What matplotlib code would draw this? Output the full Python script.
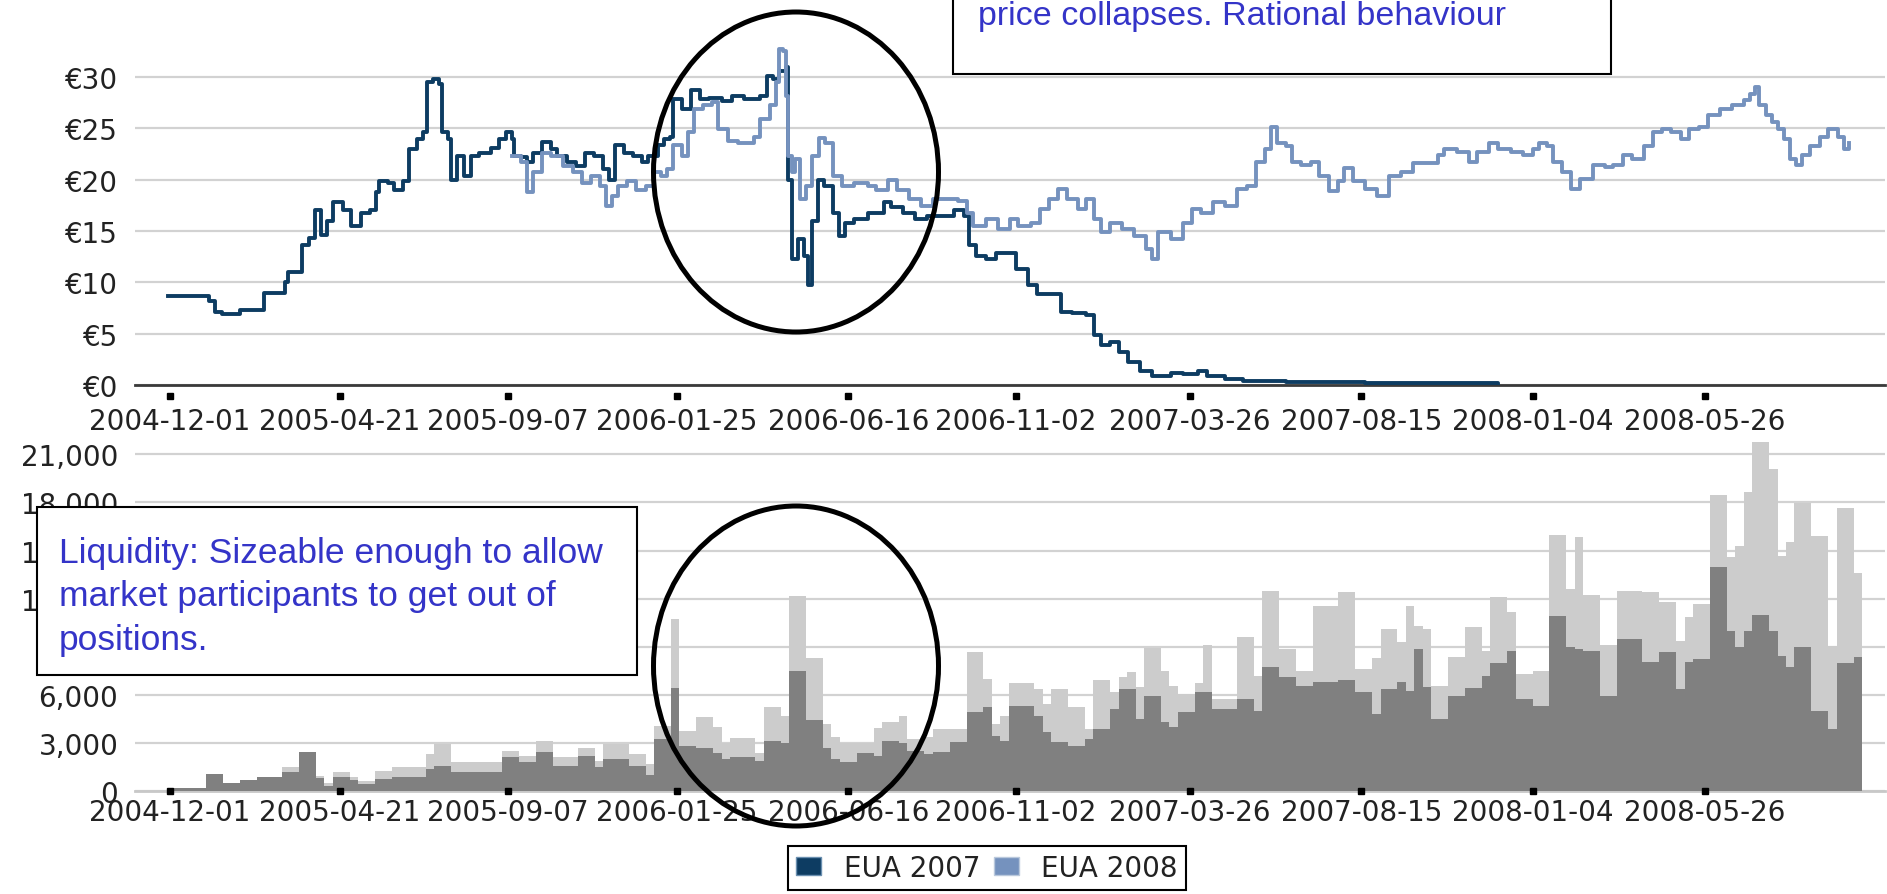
import numpy as np
import matplotlib
matplotlib.use('Agg')
import matplotlib.pyplot as plt
import matplotlib.dates as mdates
from matplotlib.patches import Ellipse, Rectangle, Patch
from matplotlib.transforms import ScaledTranslation

# EUA 2007 price, day offset from 2004-12-01 and price in EUR
eua07_days = [-2, 25, 32, 37, 43, 57, 58, 75, 78, 95, 98, 105, 109, 115, 120, 125, 130, 135, 143, 150,
              158, 166, 171, 173, 181, 186, 193, 198, 205, 210, 213, 218, 223, 225, 230, 233, 238, 244, 249, 256,
              266, 273, 278, 283, 285, 291, 296, 301, 308, 316, 321, 329, 336, 344, 351, 359, 364, 369, 376, 384,
              391, 396, 404, 409, 414, 417, 424, 432, 439, 447, 457, 466, 476, 489, 495, 500, 505, 510, 512, 515,
              520, 525, 529, 532, 537, 542, 549, 554, 559, 567, 578, 585, 592, 597, 607, 617, 627, 640, 650, 658,
              662, 668, 676, 684, 694, 701, 711, 718, 731, 738, 747, 759, 766, 771, 779, 786, 794, 804, 814, 829,
              839, 852, 859, 874, 889, 925, 990, 1100]
eua07_price = [8.7, 8.7, 8.2, 7.1, 6.9, 6.9, 7.3, 7.3, 9.0, 10.0, 11.0, 11.0, 13.6, 14.3, 17.0, 14.6, 16.0, 17.8, 17.0, 15.5,
               16.8, 17.0, 18.8, 19.9, 19.7, 19.0, 19.9, 23.0, 24.0, 24.6, 29.5, 29.8, 29.3, 24.6, 24.0, 20.0, 22.3, 20.4, 22.3, 22.6,
               23.1, 24.0, 24.6, 24.0, 22.3, 22.2, 21.7, 22.6, 23.7, 23.0, 22.3, 21.7, 21.3, 22.6, 22.3, 21.0, 20.0, 23.4, 22.6, 22.3,
               21.7, 22.3, 23.4, 24.0, 24.2, 27.9, 26.9, 28.7, 27.9, 28.0, 27.7, 28.2, 27.9, 28.2, 30.1, 29.8, 30.6, 31.0, 20.0, 12.3,
               14.2, 12.6, 9.7, 16.0, 20.0, 19.4, 16.8, 14.5, 15.8, 16.2, 16.8, 16.8, 17.8, 17.3, 16.8, 16.2, 16.5, 16.5, 17.0, 16.5,
               13.6, 12.6, 12.3, 12.9, 12.9, 11.3, 9.7, 8.9, 8.9, 7.1, 7.0, 6.8, 4.9, 3.9, 4.2, 3.2, 2.2, 1.4, 0.9, 1.2,
               1.1, 1.4, 0.9, 0.6, 0.35, 0.25, 0.15, 0.05]

# EUA 2008 price
eua08_days = [283, 291, 296, 301, 308, 316, 326, 334, 341, 349, 356, 361, 366, 371, 379, 386, 394, 401, 407, 412,
              417, 424, 429, 434, 442, 449, 454, 462, 471, 484, 489, 497, 502, 505, 508, 510, 512, 515, 518, 522,
              527, 532, 538, 543, 549, 557, 567, 578, 585, 595, 602, 612, 622, 632, 642, 653, 660, 665, 676, 686,
              696, 703, 713, 721, 728, 736, 743, 752, 759, 766, 771, 779, 789, 799, 809, 814, 819, 829, 839, 847,
              854, 864, 874, 884, 892, 900, 907, 912, 917, 925, 930, 937, 945, 952, 960, 968, 973, 980, 990, 1000,
              1010, 1020, 1030, 1041, 1051, 1056, 1066, 1076, 1083, 1093, 1100, 1111, 1121, 1129, 1134, 1141, 1146, 1153, 1161, 1168,
              1179, 1189, 1196, 1204, 1211, 1221, 1229, 1236, 1244, 1252, 1259, 1267, 1274, 1284, 1294, 1304, 1309, 1313, 1317, 1322,
              1327, 1332, 1337, 1342, 1347, 1352, 1359, 1367, 1374, 1382, 1387, 1391]
eua08_price = [22.3, 21.7, 18.8, 20.7, 22.6, 22.3, 21.3, 20.7, 19.7, 20.4, 19.4, 17.4, 18.4, 19.4, 19.9, 19.0, 19.4, 20.7, 20.4, 21.0,
               23.4, 22.3, 24.6, 26.9, 27.3, 27.6, 24.9, 23.8, 23.6, 24.2, 25.9, 27.3, 29.5, 32.7, 32.5, 28.2, 22.3, 20.7, 22.0, 18.1,
               19.4, 22.3, 24.1, 23.6, 20.4, 19.4, 19.7, 19.4, 19.0, 20.0, 19.0, 18.1, 17.4, 18.1, 18.1, 17.9, 16.8, 15.5, 16.2, 15.2,
               16.2, 15.5, 15.8, 17.1, 18.1, 19.1, 18.1, 17.1, 18.1, 16.2, 14.9, 15.8, 15.2, 14.5, 13.2, 12.3, 14.9, 14.2, 15.8, 17.1,
               16.8, 17.8, 17.4, 19.1, 19.4, 21.7, 23.0, 25.1, 23.6, 23.3, 21.7, 21.4, 21.7, 20.4, 18.9, 19.9, 21.1, 19.9, 19.1, 18.4,
               20.4, 20.7, 21.6, 21.6, 22.4, 23.0, 22.7, 21.7, 22.7, 23.6, 23.0, 22.7, 22.4, 23.0, 23.6, 23.3, 21.7, 20.7, 19.1, 20.1,
               21.4, 21.2, 21.4, 22.4, 22.0, 23.3, 24.6, 24.9, 24.6, 24.0, 24.9, 25.1, 26.3, 26.9, 27.3, 27.8, 28.3, 29.0, 27.3, 26.3,
               25.6, 24.9, 24.0, 22.0, 21.4, 22.4, 23.3, 24.2, 24.9, 24.2, 23.0, 23.6]

# weekly traded volume, first week starting 2004-12-03
vol_start = '2004-12-03'
vol_total = [200, 200, 200, 200, 1060, 1060, 500, 500, 690, 690,
             900, 900, 900, 1500, 1500, 2430, 2430, 940, 500, 1180,
             1180, 900, 600, 600, 1250, 1250, 1500, 1500, 1500, 1500,
             2300, 2930, 2930, 1800, 1800, 1800, 1800, 1800, 1800, 2500,
             2500, 2180, 2180, 3120, 3120, 2120, 2120, 2120, 2680, 2680,
             1900, 2930, 2930, 2930, 2300, 2300, 1700, 4050, 4050, 10700,
             3740, 3740, 4600, 4600, 4000, 3000, 3300, 3300, 3300, 2400,
             5240, 5240, 4700, 12170, 12170, 8300, 8300, 4200, 3400, 3000,
             3000, 3000, 3000, 3900, 4300, 4300, 4700, 3250, 3250, 3400,
             3870, 3870, 3870, 3870, 8670, 8670, 7000, 4200, 4700, 6740,
             6740, 6740, 6370, 5430, 6370, 6370, 5240, 5240, 3870, 6930,
             6930, 6180, 7100, 7430, 6500, 8900, 8900, 7500, 6550, 6050,
             6050, 6740, 9100, 5740, 5740, 5740, 9600, 9600, 7180, 12480,
             12480, 8860, 8860, 7500, 7500, 11540, 11540, 11540, 12400, 12400,
             7600, 7600, 8300, 10100, 10100, 9300, 11540, 10300, 10100, 6550,
             6550, 8360, 8360, 10230, 10230, 8740, 12100, 12100, 11170, 7300,
             7300, 7490, 7490, 15970, 15970, 12600, 15850, 12230, 12230, 9100,
             9100, 12480, 12480, 12480, 12400, 12400, 11800, 11800, 9360, 10860,
             11670, 11670, 18470, 18470, 14600, 15300, 18650, 21780, 21780, 20100,
             14670, 15540, 17970, 17970, 15910, 15910, 9050, 17660, 17660, 13600]
vol_base = [200, 200, 200, 200, 1060, 1060, 500, 500, 690, 690,
            850, 850, 850, 1200, 1200, 2430, 2430, 800, 300, 870,
            870, 700, 440, 440, 750, 750, 900, 900, 900, 900,
            1370, 1560, 1560, 1200, 1200, 1200, 1200, 1200, 1200, 2120,
            2120, 1800, 1800, 2430, 2430, 1560, 1560, 1560, 2180, 2180,
            1500, 2000, 2000, 2000, 1560, 1560, 1000, 3240, 3240, 6400,
            2800, 2800, 2700, 2700, 2400, 2000, 2100, 2100, 2100, 1900,
            3100, 3100, 3000, 7500, 7500, 4400, 4400, 2700, 2000, 1800,
            1800, 2400, 2400, 2200, 3100, 3100, 3000, 2500, 2500, 2300,
            2430, 2430, 3060, 3060, 4900, 4900, 5240, 3430, 3100, 5300,
            5300, 5300, 4700, 3680, 3060, 3060, 2800, 2800, 3240, 3870,
            3870, 5100, 6370, 6370, 4500, 5930, 5930, 4300, 4000, 4900,
            4900, 6180, 6180, 5100, 5100, 5100, 5740, 5740, 5000, 7740,
            7740, 7100, 7100, 6550, 6550, 6800, 6800, 6800, 6900, 6900,
            6200, 6200, 4800, 6370, 6370, 6800, 6240, 8860, 6500, 4500,
            4500, 5930, 5930, 6400, 6400, 7180, 8000, 8000, 8740, 5740,
            5740, 5300, 5300, 10900, 10900, 9000, 8860, 8740, 8740, 5930,
            5930, 9480, 9480, 9480, 8050, 8050, 8670, 8670, 6370, 8050,
            8240, 8240, 14000, 14000, 10000, 9000, 10000, 11000, 11000, 10000,
            8420, 7740, 9000, 9000, 5000, 5000, 3870, 8000, 8000, 8360]

tick_dates = ['2004-12-01', '2005-04-21', '2005-09-07', '2006-01-25', '2006-06-16',
              '2006-11-02', '2007-03-26', '2007-08-15', '2008-01-04', '2008-05-26']
price_ticks = [0, 5, 10, 15, 20, 25, 30]
volume_ticks = [0, 3000, 6000, 9000, 12000, 15000, 18000, 21000]

W, H = 1887, 895
navy = '#0d3c62'
steel = '#7592be'
grid_c = '#d2d2d2'
txt_c = '#222222'
note_c = '#3434c8'

base = np.datetime64('2004-12-01')
x07 = mdates.date2num(base + np.array(eua07_days).astype('timedelta64[D]'))
x08 = mdates.date2num(base + np.array(eua08_days).astype('timedelta64[D]'))
xv = mdates.date2num(np.datetime64(vol_start) + 7 * np.arange(len(vol_total)).astype('timedelta64[D]'))
xt = mdates.date2num(np.array(tick_dates, dtype='datetime64[D]'))
xlim = mdates.date2num(np.array(['2004-11-02', '2008-10-22'], dtype='datetime64[D]'))

fig = plt.figure(figsize=(W / 100, H / 100), dpi=100)
tick_font = dict(family='DejaVu Sans', size=20)


def px_axes(left, top, right, bottom):
    return fig.add_axes([left / W, 1 - bottom / H, (right - left) / W, (bottom - top) / H])


def style(ax, yticks, ylabels, baseline_c, label_pad, sq_offset):
    for s in ['top', 'right', 'left']:
        ax.spines[s].set_visible(False)
    ax.spines['bottom'].set_color(baseline_c)
    ax.spines['bottom'].set_linewidth(2)
    ax.set_xlim(*xlim)
    ax.set_yticks(yticks)
    ax.set_yticklabels(ylabels, **tick_font, color=txt_c)
    ax.set_xticks(xt)
    ax.set_xticklabels(tick_dates, **tick_font, color=txt_c)
    ax.tick_params(axis='both', length=0)
    ax.tick_params(axis='x', pad=label_pad)
    ax.tick_params(axis='y', pad=12)
    ax.grid(axis='y', color=grid_c, lw=1.6)
    ax.set_axisbelow(True)
    tr = ax.get_xaxis_transform() + ScaledTranslation(0, -sq_offset / 100, fig.dpi_scale_trans)
    ax.plot(xt, np.zeros(len(xt)), ls='none', marker='s', ms=4, color='black',
            transform=tr, clip_on=False, zorder=5)


# price panel
ax1 = px_axes(135, 0, 1885, 386)
ax1.plot(x07, eua07_price, color=navy, lw=2.8, drawstyle='steps-post', zorder=3)
ax1.plot(x08, eua08_price, color=steel, lw=2.8, drawstyle='steps-post', zorder=3)
ax1.set_ylim(0, 37.6)
style(ax1, price_ticks, ['€%d' % v for v in price_ticks], '#3a3a3a', 16, 11)

# volume panel
ax2 = px_axes(135, 440, 1885, 792)
ax2.bar(xv, vol_total, width=7, color='#cccccc', lw=0, align='edge', zorder=2)
ax2.bar(xv, vol_base, width=7, color='#808080', lw=0, align='edge', zorder=3)
ax2.set_ylim(0, 21960)
style(ax2, volume_ticks, ['{:,}'.format(v) for v in volume_ticks], '#c8c8c8', 5, 0)

# legend
handles = [Patch(facecolor=navy, edgecolor='#6a8fb0'), Patch(facecolor=steel, edgecolor='#b9c8dc')]
leg = fig.legend(handles, ['EUA 2007', 'EUA 2008'], ncol=2, loc='center',
                 bbox_to_anchor=(987 / W, 1 - 869 / H), prop=dict(family='DejaVu Sans', size=20),
                 fancybox=False, edgecolor='black', framealpha=1, handlelength=0.9, handleheight=0.6,
                 handletextpad=0.8, columnspacing=0.5, borderpad=0.3)
leg.get_frame().set_linewidth(1.5)
for t in leg.get_texts():
    t.set_color(txt_c)

# annotation boxes
fig.add_artist(Rectangle((953 / W, 1 - 75 / H), (1611 - 953) / W, 0.2, transform=fig.transFigure,
                         facecolor='white', edgecolor='black', lw=1.5, zorder=6))
fig.text(978 / W, 1 - 25 / H, 'price collapses. Rational behaviour', family='Liberation Sans',
         size=24.5, color=note_c, va='baseline', zorder=7)

fig.add_artist(Rectangle((37 / W, 1 - 676 / H), (637 - 37) / W, (676 - 508) / H, transform=fig.transFigure,
                         facecolor='white', edgecolor='black', lw=1.5, zorder=6))
fig.text(59 / W, 1 - 537 / H, 'Liquidity: Sizeable enough to allow\nmarket participants to get out of\npositions.',
         family='Liberation Sans', size=25.5, color=note_c, va='top', linespacing=1.4, zorder=7)

# ellipses round the 2006 price collapse
for cy in (173, 667):
    fig.add_artist(Ellipse((796 / W, 1 - cy / H), 285 / W, 320 / H, transform=fig.transFigure,
                           fill=False, edgecolor='black', lw=3.6, zorder=8))

fig.savefig('out.png', dpi=100)
